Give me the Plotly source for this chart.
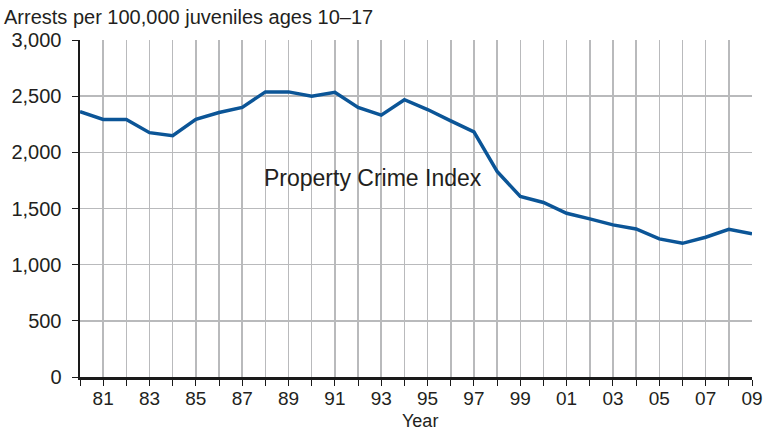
import plotly.graph_objects as go

years = list(range(1980, 2010))
arrest_rate = [2361, 2293, 2293, 2175, 2148, 2293, 2355, 2400, 2538, 2538,
               2500, 2535, 2400, 2331, 2468, 2381, 2280, 2182, 1830, 1607,
               1554, 1458, 1408, 1354, 1318, 1229, 1190, 1244, 1315, 1274]
tick_labels = [("%02d" % (y % 100)) if y % 2 == 1 else "" for y in years]
y_ticks = [0, 500, 1000, 1500, 2000, 2500, 3000]
y_tick_labels = ["0", "500", "1,000", "1,500", "2,000", "2,500", "3,000"]

FONT = "Liberation Sans, Arial, Helvetica, sans-serif"
TXT = "#231f20"
GRID = "#b9babc"

fig = go.Figure()
fig.add_trace(go.Scatter(
    x=years, y=arrest_rate, mode="lines",
    line=dict(color="#0b5597", width=3.5),
    hoverinfo="skip", showlegend=False,
))

fig.update_layout(
    width=768, height=431,
    margin=dict(l=80, r=16, t=40, b=54, autoexpand=False),
    paper_bgcolor="white", plot_bgcolor="white",
    font=dict(family=FONT, color=TXT, size=19),
    title=dict(text="Arrests per 100,000 juveniles ages 10–17",
               xref="container", yref="container", x=4 / 768, y=1 - 17 / 431,
               xanchor="left", yanchor="middle", automargin=False,
               font=dict(size=20, color=TXT)),
    xaxis=dict(
        range=[1980, 2009], tickmode="array", tickvals=years, ticktext=tick_labels,
        showgrid=True, gridcolor=GRID, gridwidth=1.5,
        showline=True, linecolor="#1a1a1a", linewidth=2.5,
        ticks="outside", ticklen=6, tickcolor="#1a1a1a", tickwidth=1,
        tickfont=dict(size=19, color=TXT), zeroline=False, ticklabelstandoff=-3,
    ),
    yaxis=dict(
        range=[0, 3000], tickmode="array", tickvals=y_ticks, ticktext=y_tick_labels,
        showgrid=True, gridcolor=GRID, gridwidth=1.5,
        showline=True, linecolor="#1a1a1a", linewidth=2.5,
        ticks="outside", ticklen=6, tickcolor="#1a1a1a", tickwidth=1,
        tickfont=dict(size=20, color=TXT), zeroline=False, ticklabelstandoff=6,
    ),
    annotations=[
        dict(text="Property Crime Index", xref="x", yref="y",
             x=1992.65, y=1770, xanchor="center", yanchor="middle", showarrow=False,
             font=dict(size=23, color=TXT)),
        dict(text="Year", xref="paper", yref="paper",
             x=(420 - 80) / 672, y=(377 - 421) / 337, xanchor="center", yanchor="middle",
             showarrow=False, borderpad=0, font=dict(size=18, color=TXT)),
    ],
)

fig.write_html("out.html", config={"displayModeBar": False, "staticPlot": True},
               post_script="document.body.style.margin='0';document.body.style.overflow='hidden';")
